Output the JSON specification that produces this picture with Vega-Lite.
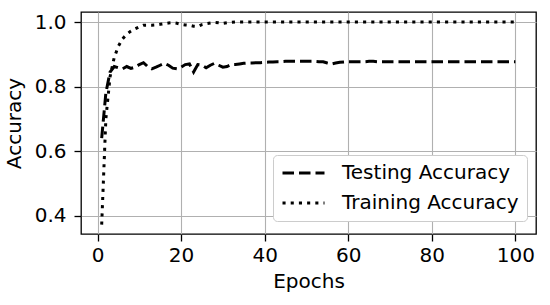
{
  "$schema": "https://vega.github.io/schema/vega-lite/v6.json",
  "width": 455,
  "height": 222,
  "autosize": "none",
  "padding": {"left": 81, "top": 12, "right": 14, "bottom": 71},
  "background": "white",
  "data": {
    "values": [
      {"epoch": 1, "Testing Accuracy": 0.64, "Training Accuracy": 0.372},
      {"epoch": 2, "Testing Accuracy": 0.78, "Training Accuracy": 0.70},
      {"epoch": 3, "Testing Accuracy": 0.845, "Training Accuracy": 0.83},
      {"epoch": 4, "Testing Accuracy": 0.862, "Training Accuracy": 0.89},
      {"epoch": 5, "Testing Accuracy": 0.858, "Training Accuracy": 0.925},
      {"epoch": 6, "Testing Accuracy": 0.855, "Training Accuracy": 0.948},
      {"epoch": 7, "Testing Accuracy": 0.862, "Training Accuracy": 0.962},
      {"epoch": 8, "Testing Accuracy": 0.856, "Training Accuracy": 0.972},
      {"epoch": 9, "Testing Accuracy": 0.86, "Training Accuracy": 0.979},
      {"epoch": 10, "Testing Accuracy": 0.868, "Training Accuracy": 0.985},
      {"epoch": 11, "Testing Accuracy": 0.874, "Training Accuracy": 0.99},
      {"epoch": 12, "Testing Accuracy": 0.862, "Training Accuracy": 0.99},
      {"epoch": 13, "Testing Accuracy": 0.855, "Training Accuracy": 0.99},
      {"epoch": 14, "Testing Accuracy": 0.86, "Training Accuracy": 0.991},
      {"epoch": 15, "Testing Accuracy": 0.866, "Training Accuracy": 0.993},
      {"epoch": 16, "Testing Accuracy": 0.872, "Training Accuracy": 0.995},
      {"epoch": 17, "Testing Accuracy": 0.866, "Training Accuracy": 0.997},
      {"epoch": 18, "Testing Accuracy": 0.857, "Training Accuracy": 0.998},
      {"epoch": 19, "Testing Accuracy": 0.855, "Training Accuracy": 0.996},
      {"epoch": 20, "Testing Accuracy": 0.86, "Training Accuracy": 0.993},
      {"epoch": 21, "Testing Accuracy": 0.868, "Training Accuracy": 0.991},
      {"epoch": 22, "Testing Accuracy": 0.87, "Training Accuracy": 0.99},
      {"epoch": 23, "Testing Accuracy": 0.845, "Training Accuracy": 0.987},
      {"epoch": 24, "Testing Accuracy": 0.868, "Training Accuracy": 0.986},
      {"epoch": 25, "Testing Accuracy": 0.866, "Training Accuracy": 0.992},
      {"epoch": 26, "Testing Accuracy": 0.858, "Training Accuracy": 0.995},
      {"epoch": 27, "Testing Accuracy": 0.866, "Training Accuracy": 0.997},
      {"epoch": 28, "Testing Accuracy": 0.872, "Training Accuracy": 0.999},
      {"epoch": 29, "Testing Accuracy": 0.866, "Training Accuracy": 0.998},
      {"epoch": 30, "Testing Accuracy": 0.86, "Training Accuracy": 0.996},
      {"epoch": 31, "Testing Accuracy": 0.862, "Training Accuracy": 0.998},
      {"epoch": 32, "Testing Accuracy": 0.868, "Training Accuracy": 0.999},
      {"epoch": 33, "Testing Accuracy": 0.868, "Training Accuracy": 1.0},
      {"epoch": 34, "Testing Accuracy": 0.87, "Training Accuracy": 1.0},
      {"epoch": 35, "Testing Accuracy": 0.872, "Training Accuracy": 1.0},
      {"epoch": 36, "Testing Accuracy": 0.873, "Training Accuracy": 1.0},
      {"epoch": 37, "Testing Accuracy": 0.873, "Training Accuracy": 1.0},
      {"epoch": 38, "Testing Accuracy": 0.874, "Training Accuracy": 1.0},
      {"epoch": 39, "Testing Accuracy": 0.874, "Training Accuracy": 1.0},
      {"epoch": 40, "Testing Accuracy": 0.875, "Training Accuracy": 1.0},
      {"epoch": 41, "Testing Accuracy": 0.876, "Training Accuracy": 1.0},
      {"epoch": 42, "Testing Accuracy": 0.876, "Training Accuracy": 1.0},
      {"epoch": 43, "Testing Accuracy": 0.877, "Training Accuracy": 1.0},
      {"epoch": 44, "Testing Accuracy": 0.877, "Training Accuracy": 1.0},
      {"epoch": 45, "Testing Accuracy": 0.878, "Training Accuracy": 1.0},
      {"epoch": 46, "Testing Accuracy": 0.878, "Training Accuracy": 1.0},
      {"epoch": 47, "Testing Accuracy": 0.878, "Training Accuracy": 1.0},
      {"epoch": 48, "Testing Accuracy": 0.878, "Training Accuracy": 1.0},
      {"epoch": 49, "Testing Accuracy": 0.878, "Training Accuracy": 1.0},
      {"epoch": 50, "Testing Accuracy": 0.878, "Training Accuracy": 1.0},
      {"epoch": 51, "Testing Accuracy": 0.878, "Training Accuracy": 1.0},
      {"epoch": 52, "Testing Accuracy": 0.878, "Training Accuracy": 1.0},
      {"epoch": 53, "Testing Accuracy": 0.877, "Training Accuracy": 1.0},
      {"epoch": 54, "Testing Accuracy": 0.877, "Training Accuracy": 1.0},
      {"epoch": 55, "Testing Accuracy": 0.873, "Training Accuracy": 1.0},
      {"epoch": 56, "Testing Accuracy": 0.87, "Training Accuracy": 1.0},
      {"epoch": 57, "Testing Accuracy": 0.873, "Training Accuracy": 1.0},
      {"epoch": 58, "Testing Accuracy": 0.875, "Training Accuracy": 1.0},
      {"epoch": 59, "Testing Accuracy": 0.876, "Training Accuracy": 1.0},
      {"epoch": 60, "Testing Accuracy": 0.877, "Training Accuracy": 1.0},
      {"epoch": 61, "Testing Accuracy": 0.877, "Training Accuracy": 1.0},
      {"epoch": 62, "Testing Accuracy": 0.877, "Training Accuracy": 1.0},
      {"epoch": 63, "Testing Accuracy": 0.877, "Training Accuracy": 1.0},
      {"epoch": 64, "Testing Accuracy": 0.877, "Training Accuracy": 1.0},
      {"epoch": 65, "Testing Accuracy": 0.878, "Training Accuracy": 1.0},
      {"epoch": 66, "Testing Accuracy": 0.878, "Training Accuracy": 1.0},
      {"epoch": 67, "Testing Accuracy": 0.877, "Training Accuracy": 1.0},
      {"epoch": 68, "Testing Accuracy": 0.877, "Training Accuracy": 1.0},
      {"epoch": 69, "Testing Accuracy": 0.877, "Training Accuracy": 1.0},
      {"epoch": 70, "Testing Accuracy": 0.877, "Training Accuracy": 1.0},
      {"epoch": 71, "Testing Accuracy": 0.877, "Training Accuracy": 1.0},
      {"epoch": 72, "Testing Accuracy": 0.877, "Training Accuracy": 1.0},
      {"epoch": 73, "Testing Accuracy": 0.877, "Training Accuracy": 1.0},
      {"epoch": 74, "Testing Accuracy": 0.877, "Training Accuracy": 1.0},
      {"epoch": 75, "Testing Accuracy": 0.877, "Training Accuracy": 1.0},
      {"epoch": 76, "Testing Accuracy": 0.877, "Training Accuracy": 1.0},
      {"epoch": 77, "Testing Accuracy": 0.877, "Training Accuracy": 1.0},
      {"epoch": 78, "Testing Accuracy": 0.877, "Training Accuracy": 1.0},
      {"epoch": 79, "Testing Accuracy": 0.877, "Training Accuracy": 1.0},
      {"epoch": 80, "Testing Accuracy": 0.877, "Training Accuracy": 1.0},
      {"epoch": 81, "Testing Accuracy": 0.877, "Training Accuracy": 1.0},
      {"epoch": 82, "Testing Accuracy": 0.877, "Training Accuracy": 1.0},
      {"epoch": 83, "Testing Accuracy": 0.877, "Training Accuracy": 1.0},
      {"epoch": 84, "Testing Accuracy": 0.877, "Training Accuracy": 1.0},
      {"epoch": 85, "Testing Accuracy": 0.877, "Training Accuracy": 1.0},
      {"epoch": 86, "Testing Accuracy": 0.877, "Training Accuracy": 1.0},
      {"epoch": 87, "Testing Accuracy": 0.877, "Training Accuracy": 1.0},
      {"epoch": 88, "Testing Accuracy": 0.877, "Training Accuracy": 1.0},
      {"epoch": 89, "Testing Accuracy": 0.877, "Training Accuracy": 1.0},
      {"epoch": 90, "Testing Accuracy": 0.877, "Training Accuracy": 1.0},
      {"epoch": 91, "Testing Accuracy": 0.877, "Training Accuracy": 1.0},
      {"epoch": 92, "Testing Accuracy": 0.877, "Training Accuracy": 1.0},
      {"epoch": 93, "Testing Accuracy": 0.877, "Training Accuracy": 1.0},
      {"epoch": 94, "Testing Accuracy": 0.877, "Training Accuracy": 1.0},
      {"epoch": 95, "Testing Accuracy": 0.877, "Training Accuracy": 1.0},
      {"epoch": 96, "Testing Accuracy": 0.877, "Training Accuracy": 1.0},
      {"epoch": 97, "Testing Accuracy": 0.877, "Training Accuracy": 1.0},
      {"epoch": 98, "Testing Accuracy": 0.877, "Training Accuracy": 1.0},
      {"epoch": 99, "Testing Accuracy": 0.877, "Training Accuracy": 1.0},
      {"epoch": 100, "Testing Accuracy": 0.877, "Training Accuracy": 1.0}
    ]
  },
  "transform": [
    {"fold": ["Testing Accuracy", "Training Accuracy"], "as": ["series", "acc"]}
  ],
  "mark": {"type": "line", "color": "black", "strokeWidth": 3, "clip": true},
  "encoding": {
    "x": {
      "field": "epoch",
      "type": "quantitative",
      "scale": {"domain": [-3.95, 104.95], "nice": false, "zero": false},
      "axis": {"title": "Epochs", "values": [0, 20, 40, 60, 80, 100], "format": "d", "labelPadding": 4, "titlePadding": 6}
    },
    "y": {
      "field": "acc",
      "type": "quantitative",
      "scale": {"domain": [0.343, 1.031], "nice": false, "zero": false},
      "axis": {"title": "Accuracy", "values": [0.4, 0.6, 0.8, 1.0], "format": ".1f", "labelPadding": 8, "titlePadding": 10}
    },
    "strokeDash": {
      "field": "series",
      "type": "nominal",
      "scale": {"domain": ["Testing Accuracy", "Training Accuracy"], "range": [[11.5, 5], [3.1, 5.1]]},
      "legend": {
        "title": null,
        "orient": "none",
        "legendX": 192,
        "legendY": 143,
        "symbolType": "stroke",
        "symbolSize": 1764,
        "symbolStrokeWidth": 3,
        "symbolStrokeColor": "black",
        "clipHeight": 20,
        "labelFontSize": 20,
        "labelColor": "black",
        "labelLimit": 400,
        "labelOffset": 16,
        "rowPadding": 10,
        "padding": 8,
        "fillColor": "white",
        "strokeColor": "#cccccc",
        "cornerRadius": 4
      }
    }
  },
  "config": {
    "font": "DejaVu Sans",
    "view": {"stroke": "black", "strokeWidth": 1.3},
    "axis": {
      "labelFont": "DejaVu Sans",
      "titleFont": "DejaVu Sans",
      "labelFontSize": 20,
      "titleFontSize": 20,
      "titleFontWeight": "normal",
      "labelColor": "black",
      "titleColor": "black",
      "domain": false,
      "tickColor": "black",
      "tickWidth": 1.3,
      "tickSize": 7,
      "grid": true,
      "gridColor": "#b0b0b0",
      "gridWidth": 1.1
    },
    "legend": {"labelFont": "DejaVu Sans"}
  }
}
